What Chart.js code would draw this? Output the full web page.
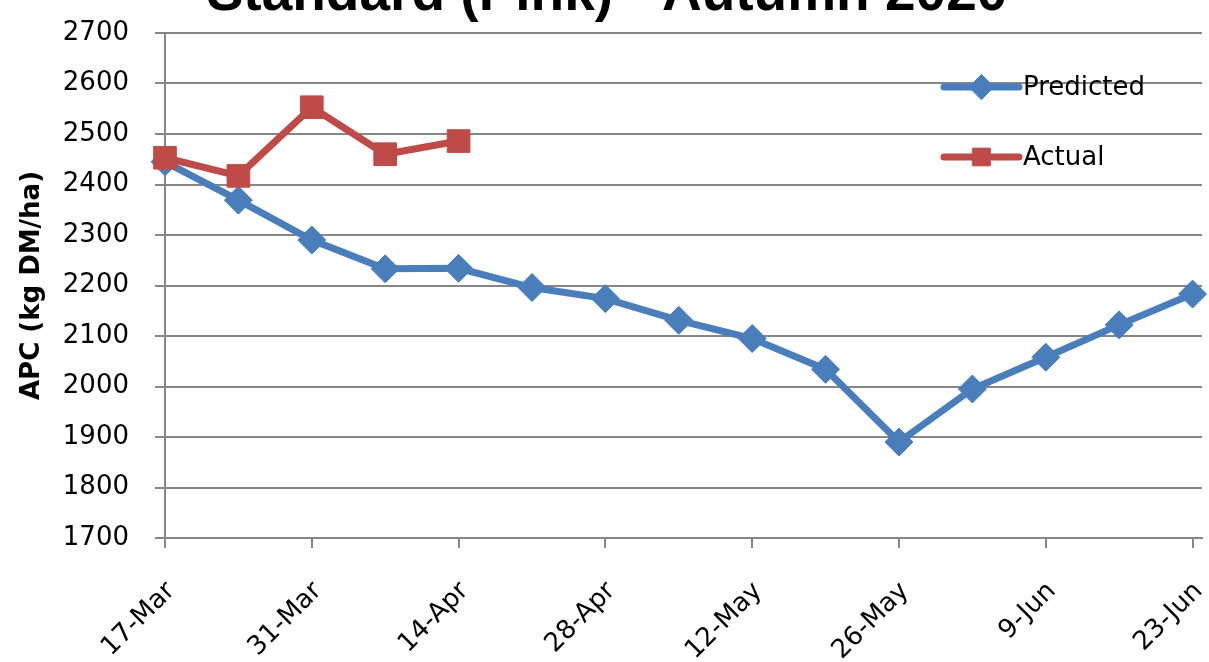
<!DOCTYPE html>
<html>
<head>
<meta charset="utf-8">
<script src="https://cdn.jsdelivr.net/npm/chart.js@4/dist/chart.umd.min.js"></script>
<style>
  html, body { margin: 0; padding: 0; background: #ffffff; overflow: hidden; }
  #wrap { position: absolute; left: 0; top: 0; width: 1209px; height: 662px; }
</style>
</head>
<body>
<div id="wrap"><canvas id="c" width="1209" height="662"></canvas></div>
<script>
// ---- data ----
const chartTitle = 'Standard (Pink) - Autumn 2020';
const yAxisTitle = 'APC (kg DM/ha)';
const year = 2020;
const categories = ['17-Mar','24-Mar','31-Mar','7-Apr','14-Apr','21-Apr','28-Apr','5-May','12-May','19-May','26-May','2-Jun','9-Jun','16-Jun','23-Jun'];
const xTickLabels = ['17-Mar','31-Mar','14-Apr','28-Apr','12-May','26-May','9-Jun','23-Jun'];
const predicted = [2445, 2369, 2290, 2233, 2234, 2196, 2174, 2131, 2095, 2034, 1890, 1995, 2058, 2122, 2183];
const actual = [2453, 2417, 2553, 2460, 2486];
const yMin = 1700, yMax = 2700, yStep = 100;

// ---- helpers: date labels -> day numbers (date axis) ----
const monthNames = ['Jan','Feb','Mar','Apr','May','Jun','Jul','Aug','Sep','Oct','Nov','Dec'];
function dayOf(label) {
  const parts = label.split('-');
  return Date.UTC(year, monthNames.indexOf(parts[1]), +parts[0]) / 86400000;
}
const day0 = dayOf(categories[0]);
const xOf = label => dayOf(label) - day0;
const predictedPts = predicted.map((v, i) => ({ x: xOf(categories[i]), y: v }));
const actualPts = actual.map((v, i) => ({ x: xOf(categories[i]), y: v }));
const tickDays = xTickLabels.map(xOf);
const labelForDay = {};
xTickLabels.forEach(l => { labelForDay[xOf(l)] = l; });

const BLUE = '#4A7EBB';
const RED = '#BE4B48';
const GRID = '#878787';
const FONT = 'DejaVu Sans';

const legendItems = [
  { text: 'Predicted', color: BLUE, style: 'rectRot', radius: 12.5 },
  { text: 'Actual', color: RED, style: 'rect', radius: 12.5 }
];

const overlay = {
  id: 'overlay',
  afterDraw(chart) {
    const ctx = chart.ctx;
    const area = chart.chartArea;
    ctx.save();
    // title (cut off at top as in the reference)
    ctx.fillStyle = '#000';
    ctx.font = 'bold 55px "Liberation Sans"';
    ctx.textAlign = 'center';
    ctx.textBaseline = 'alphabetic';
    ctx.fillText(chartTitle, 607, 10);
    // legend
    legendItems.forEach((it, i) => {
      const y = area.top + 54 + i * 70;
      const x0 = area.right - 258, x1 = area.right - 183;
      ctx.strokeStyle = it.color;
      ctx.lineWidth = 7;
      ctx.lineCap = 'round';
      ctx.beginPath();
      ctx.moveTo(x0, y);
      ctx.lineTo(x1, y);
      ctx.stroke();
      ctx.fillStyle = it.color;
      ctx.lineWidth = 1;
      Chart.helpers.drawPoint(ctx, { pointStyle: it.style, radius: it.radius, borderWidth: 1, rotation: 0 }, (x0 + x1) / 2, y);
      ctx.fillStyle = '#000';
      ctx.font = '26px "' + FONT + '"';
      ctx.textAlign = 'left';
      ctx.textBaseline = 'middle';
      ctx.fillText(it.text, x1 + 4, y + 1);
    });
    ctx.restore();
  }
};

new Chart(document.getElementById('c'), {
  type: 'line',
  data: {
    datasets: [
      {
        label: 'Actual', data: actualPts, order: 0,
        borderColor: RED, backgroundColor: RED, borderWidth: 7,
        pointStyle: 'rect', pointRadius: 16, pointBorderWidth: 1,
        pointBackgroundColor: RED, pointBorderColor: RED,
        tension: 0, clip: false
      },
      {
        label: 'Predicted', data: predictedPts, order: 1,
        borderColor: BLUE, backgroundColor: BLUE, borderWidth: 7,
        pointStyle: 'rectRot', pointRadius: 14, pointBorderWidth: 1,
        pointBackgroundColor: BLUE, pointBorderColor: BLUE,
        tension: 0, clip: false
      }
    ]
  },
  options: {
    responsive: false,
    animation: false,
    devicePixelRatio: 1,
    layout: { autoPadding: false, padding: { top: 33, right: 7, left: 0, bottom: 0 } },
    plugins: { legend: { display: false }, title: { display: false }, tooltip: { enabled: false } },
    scales: {
      x: {
        type: 'linear',
        min: 0,
        max: xOf(categories[categories.length - 1]) + 0.9,
        afterBuildTicks(scale) { scale.ticks = tickDays.map(v => ({ value: v })); },
        afterFit(scale) { scale.height = 124; scale.paddingLeft = 0; scale.paddingRight = 0; },
        grid: { drawOnChartArea: false, drawTicks: true, tickLength: 10, color: GRID, lineWidth: 2 },
        border: { display: true, color: GRID, width: 2 },
        ticks: {
          autoSkip: false, minRotation: 45, maxRotation: 45, padding: 28, labelOffset: 6,
          color: '#000', font: { family: FONT, size: 26 },
          callback: v => labelForDay[v] || ''
        }
      },
      y: {
        min: yMin, max: yMax,
        afterFit(scale) { scale.width = 165; scale.paddingTop = 0; scale.paddingBottom = 0; },
        grid: { drawOnChartArea: true, drawTicks: true, tickLength: 10, color: GRID, lineWidth: 2 },
        border: { display: true, color: GRID, width: 2 },
        ticks: { stepSize: yStep, padding: 26, color: '#000', font: { family: FONT, size: 26 }, callback: v => String(v) },
        title: { display: true, text: yAxisTitle, color: '#000', font: { family: FONT, size: 26, weight: 'bold' }, padding: { top: 17, bottom: 0 } }
      }
    }
  },
  plugins: [overlay]
});
</script>
</body>
</html>
